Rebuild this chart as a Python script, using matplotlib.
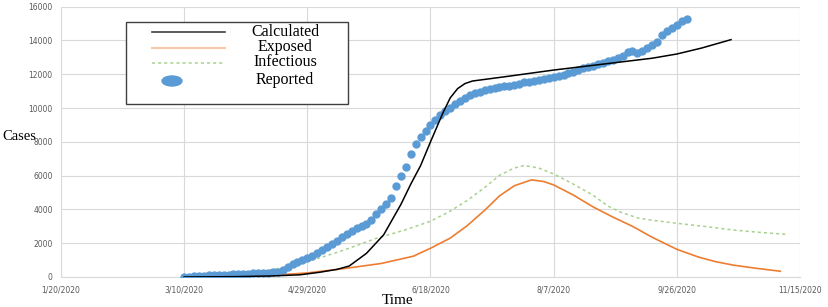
import numpy as np
import pandas as pd
import matplotlib
matplotlib.use('Agg')
import matplotlib.pyplot as plt
from matplotlib.lines import Line2D
from matplotlib.patches import Ellipse, Rectangle

# ---- data (days counted from 1/20/2020) ----
start = pd.Timestamp('2020-01-20')

rep_days = [50, 52, 54, 56, 58, 60, 62, 64, 66, 68, 70, 72, 74, 76, 78, 80, 82, 84, 86, 88,
            90, 92, 94, 96, 98, 100, 102, 104, 106, 108, 110, 112, 114, 116, 118, 120, 122, 124,
            126, 128, 130, 132, 134, 136, 138, 140, 142, 144, 146, 148, 150, 152, 154, 156, 158,
            160, 162, 164, 166, 168, 170, 172, 174, 176, 178, 180, 182, 184, 186, 188, 190, 192,
            194, 196, 198, 200, 202, 204, 206, 208, 210, 212, 214, 216, 218, 220, 222, 224, 226,
            228, 230, 232, 234, 236, 238, 240, 242, 244, 246, 248, 250, 252, 254]
rep_vals = [0, 20, 40, 60, 80, 90, 100, 115, 130, 145, 160, 175, 190, 205, 220, 235, 250, 265,
            285, 310, 420, 580, 750, 900, 1030, 1130, 1260, 1400, 1600, 1780, 1960, 2150, 2350,
            2560, 2740, 2880, 3020, 3160, 3400, 3700, 4050, 4350, 4700, 5400, 6000, 6500, 7300,
            7900, 8300, 8650, 8990, 9300, 9580, 9800, 9980, 10250, 10420, 10600, 10750, 10870,
            10960, 11040, 11120, 11180, 11240, 11280, 11330, 11380, 11450, 11520, 11560, 11620,
            11680, 11740, 11800, 11840, 11880, 11950, 12060, 12160, 12260, 12350, 12420, 12500,
            12580, 12660, 12760, 12850, 12940, 13100, 13300, 13380, 13270, 13400, 13550, 13750,
            13930, 14300, 14550, 14750, 14920, 15150, 15250]

calc_days = [50, 70, 85, 97, 105, 112, 117, 124, 131, 138, 142, 146, 150, 155, 158, 161, 164,
             167, 180, 200, 220, 240, 250, 260, 272]
calc_vals = [0, 20, 60, 130, 280, 450, 650, 1400, 2500, 4300, 5500, 6600, 8000, 9700, 10600,
             11150, 11450, 11600, 11850, 12250, 12600, 12950, 13200, 13550, 14050]

exp_days = [50, 70, 85, 100, 115, 130, 143, 150, 158, 165, 172, 178, 184, 191, 196, 200, 208,
            216, 224, 232, 240, 250, 259, 266, 273, 282, 292]
exp_vals = [0, 40, 100, 240, 500, 800, 1230, 1700, 2300, 3050, 3950, 4800, 5400, 5750, 5650,
            5450, 4850, 4150, 3550, 3000, 2350, 1640, 1170, 900, 700, 520, 340]

inf_days = [50, 60, 70, 80, 90, 97, 105, 115, 128, 140, 150, 158, 165, 172, 178, 184, 188, 194,
            200, 208, 216, 222, 227, 234, 240, 250, 262, 273, 283, 294]
inf_vals = [0, 50, 150, 300, 550, 800, 1130, 1600, 2290, 2800, 3300, 3900, 4540, 5300, 6020,
            6450, 6600, 6450, 6100, 5500, 4840, 4200, 3850, 3500, 3360, 3180, 2980, 2780, 2650,
            2530]

tick_days = [0, 50, 100, 150, 200, 250, 300]
tick_labels = ['1/20/2020', '3/10/2020', '4/29/2020', '6/18/2020', '8/7/2020', '9/26/2020',
               '11/15/2020']
y_ticks = [0, 2000, 4000, 6000, 8000, 10000, 12000, 14000, 16000]
legend_labels = ['Calculated', 'Exposed', 'Infectious', 'Reported']


def to_dates(days):
    return start + pd.to_timedelta(days, unit='D')


blue = '#5B9BD5'
orange = '#ED7D31'
green = '#A9D18E'
W, H = 829.0, 307.0

fig = plt.figure(figsize=(8.29, 3.07), dpi=100)
ax = fig.add_axes([61 / W, 1 - 277 / H, 739 / W, 270.3 / H])

ax.plot(to_dates(inf_days), inf_vals, color=green, lw=1.1, ls=(0, (2, 2)), zorder=2)
ax.plot(to_dates(exp_days), exp_vals, color=orange, lw=1.2, zorder=3)
ax.plot(to_dates(rep_days), rep_vals, color=blue, ls='', marker='o', ms=5.0, mec=blue, zorder=4)
ax.plot(to_dates(calc_days), calc_vals, color='black', lw=1.1, zorder=5)

ax.set_xlim(to_dates([0])[0], to_dates([300])[0])
ax.set_ylim(0, 16000)
ax.set_xticks(to_dates(tick_days))
ax.set_xticklabels(tick_labels)
ax.set_yticks(y_ticks)
ax.set_yticklabels([str(v) for v in y_ticks])
ax.tick_params(length=0, labelsize=5.5, colors='#595959', pad=6)
ax.grid(True, color='#D9D9D9', lw=0.8)
ax.set_axisbelow(True)
for s in ['top', 'right', 'left']:
    ax.spines[s].set_visible(False)
ax.spines['bottom'].set_color('#D9D9D9')

fig.text(2 / W, 1 - 137 / H, 'Cases', family='Liberation Serif', fontsize=10.5,
         ha='left', va='center')
fig.text(398 / W, 1 - 300 / H, 'Time', family='Liberation Serif', fontsize=11,
         ha='center', va='center')

# legend box drawn by hand (wide side padding like the original)
fig.add_artist(Rectangle((126 / W, 1 - 104 / H), 222 / W, 82 / H, transform=fig.transFigure,
                         fc='white', ec='#404040', lw=1.0, zorder=10))
ys = [32, 47.5, 62.5, 81]
styles = [dict(color='#404040', lw=1.2), dict(color='#F8CBAD', lw=1.6),
          dict(color=green, lw=1.1, ls=(0, (2, 2)))]
for y, st in zip(ys[:3], styles):
    fig.add_artist(Line2D([152 / W, 225 / W], [1 - y / H, 1 - y / H],
                          transform=fig.transFigure, zorder=11, **st))
fig.add_artist(Ellipse((172 / W, 1 - ys[3] / H), 20 / W, 10 / H, transform=fig.transFigure,
                       fc=blue, ec=blue, zorder=11))
for y, lab in zip(ys, legend_labels):
    fig.text(285 / W, 1 - (y - 0.5) / H, lab, family='Liberation Serif', fontsize=11.5,
             ha='center', va='center', zorder=12)

fig.savefig('out.png', dpi=100)
